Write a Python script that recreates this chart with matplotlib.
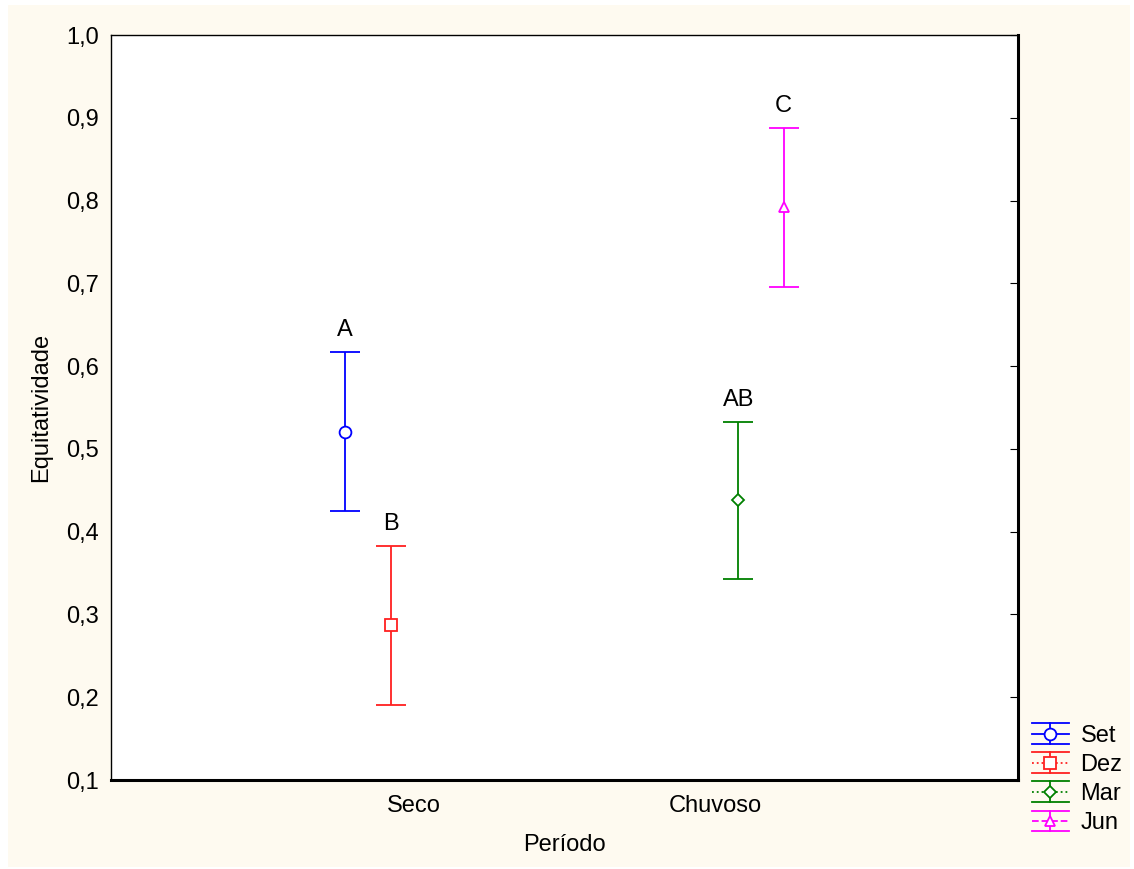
import matplotlib.pyplot as plt
from matplotlib.patches import Rectangle
from matplotlib.lines import Line2D
from matplotlib.legend_handler import HandlerBase

plt.rcParams['font.family'] = ['Liberation Sans', 'DejaVu Sans']

# dados
periodos = ['Seco', 'Chuvoso']
meses = ['Set', 'Dez', 'Mar', 'Jun']
mes_periodo = [0, 0, 1, 1]
medias = [0.521, 0.287, 0.438, 0.792]
erros = [0.096, 0.096, 0.095, 0.096]
letras = ['A', 'B', 'AB', 'C']
yticks = [0.1, 0.2, 0.3, 0.4, 0.5, 0.6, 0.7, 0.8, 0.9, 1.0]

cores = ['#0000ff', '#ff2020', '#008000', '#ff00ff']
marcadores = ['o', 's', 'D', '^']
tamanhos = [8.5, 8.5, 6.5, 7.5]
estilos = ['-', ':', ':', '--']
desloc = [-0.225, -0.075, 0.075, 0.225]
fs = 17


class HandlerBarra(HandlerBase):
    # simbolo de legenda estilo STATISTICA: linha, barra vertical e capas largas
    def create_artists(self, legend, orig, xdescent, ydescent, width, height,
                       fontsize, trans):
        c = orig.get_color()
        ym = -ydescent + height / 2
        h = 7.5
        x0, x1 = -xdescent, -xdescent + width
        xm = (x0 + x1) / 2
        arts = [
            Line2D([x0, x1], [ym, ym], color=c, ls=orig.get_linestyle(), lw=1.3),
            Line2D([x0, x1], [ym + h, ym + h], color=c, lw=1.3),
            Line2D([x0, x1], [ym - h, ym - h], color=c, lw=1.3),
            Line2D([xm, xm], [ym - h, ym + h], color=c, lw=1.3),
            Line2D([xm], [ym], marker=orig.get_marker(), ms=orig.get_markersize(),
                   mfc='white', mec=c, mew=1.3, ls='none'),
        ]
        for a in arts:
            a.set_transform(trans)
        return arts


fig = plt.figure(figsize=(11.34, 8.69), dpi=100, facecolor='white')
fig.patches.append(Rectangle((8 / 1134, 2 / 869), 1122 / 1134, 862 / 869,
                             transform=fig.transFigure, facecolor='#fefaf0',
                             edgecolor='none', zorder=-10))
ax = fig.add_axes([0.0979, 0.1024, 0.7998, 0.8573])
ax.set_facecolor('white')

proxies = []
for i, m in enumerate(meses):
    x = mes_periodo[i] + 1 + desloc[i]
    ax.errorbar(x, medias[i], yerr=erros[i], color=cores[i], ecolor=cores[i],
                marker=marcadores[i], ms=tamanhos[i], mfc='white', mec=cores[i],
                mew=1.3, capsize=11, capthick=1.3, elinewidth=1.3, linestyle='none')
    ax.text(x, medias[i] + erros[i] + 0.013, letras[i], ha='center', va='bottom',
            fontsize=fs)
    proxies.append(Line2D([], [], color=cores[i], ls=estilos[i], marker=marcadores[i],
                          ms=tamanhos[i], label=m))

ax.set_xlim(0, 3)
ax.set_ylim(0.1, 1.0)
ax.set_xticks([1, 2])
ax.set_xticklabels(periodos)
ax.set_yticks(yticks)
ax.set_yticklabels([f'{v:.1f}'.replace('.', ',') for v in yticks])
ax.tick_params(axis='x', length=0, pad=11, labelsize=fs)
ax.tick_params(axis='y', left=False, right=True, direction='in', length=6,
               pad=9, labelsize=fs)
for s in ['top', 'left']:
    ax.spines[s].set_linewidth(1.0)
for s in ['right', 'bottom']:
    ax.spines[s].set_linewidth(2.2)
ax.set_xlabel('Período', fontsize=fs, labelpad=12)
ax.set_ylabel('Equitatividade', fontsize=fs, labelpad=10)

fig.legend(handles=proxies, handler_map={Line2D: HandlerBarra()}, loc='upper left',
           bbox_to_anchor=(1032 / 1134, 1 - 725 / 869), frameon=False, fontsize=fs,
           handlelength=1.55, handletextpad=0.5, labelspacing=0.3, borderaxespad=0,
           borderpad=0)

fig.savefig('out.png', dpi=100, facecolor=fig.get_facecolor())
